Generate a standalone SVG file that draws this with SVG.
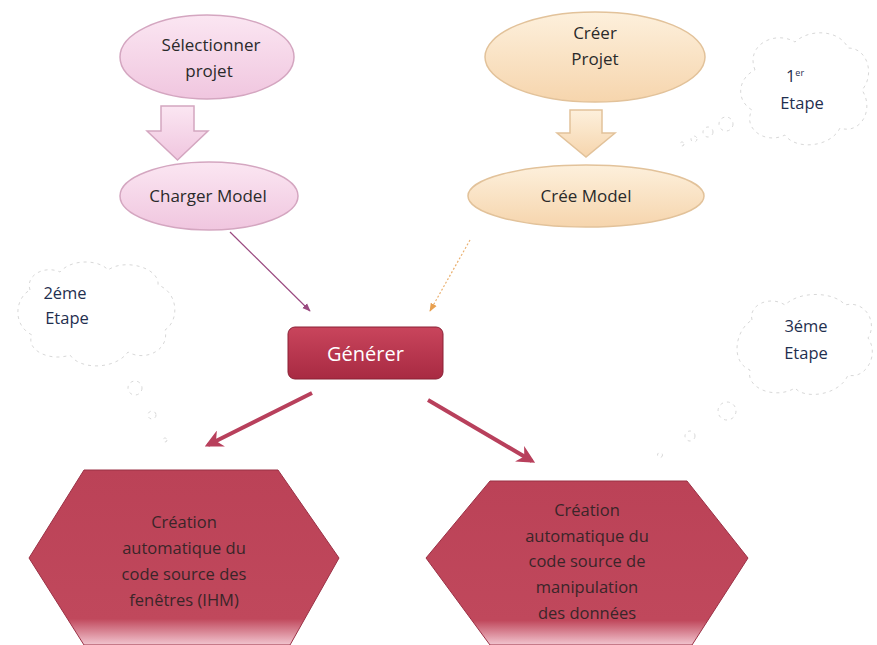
<svg xmlns="http://www.w3.org/2000/svg" width="877" height="645" viewBox="0 0 877 645">
<defs>
<linearGradient id="gPink" x1="0" y1="0" x2="0" y2="1">
<stop offset="0" stop-color="#fbe6f2"/><stop offset="1" stop-color="#f0c6df"/>
</linearGradient>
<linearGradient id="gOrange" x1="0" y1="0" x2="0" y2="1">
<stop offset="0" stop-color="#fdf0dc"/><stop offset="1" stop-color="#f6d5ad"/>
</linearGradient>
<linearGradient id="gRed" x1="0" y1="0" x2="0" y2="1">
<stop offset="0" stop-color="#bb4257"/><stop offset="0.85" stop-color="#c0485c"/><stop offset="1" stop-color="#f2c6d0"/>
</linearGradient>
<linearGradient id="gBtn" x1="0" y1="0" x2="0" y2="1">
<stop offset="0" stop-color="#c9455c"/><stop offset="1" stop-color="#a82a42"/>
</linearGradient>
<marker id="mThin" viewBox="0 0 10 10" refX="9" refY="5" markerWidth="7" markerHeight="7" orient="auto">
<path d="M0,1 L10,5 L0,9 z" fill="#9a4a80"/>
</marker>
<marker id="mOr" viewBox="0 0 10 10" refX="9" refY="5" markerWidth="7" markerHeight="7" orient="auto">
<path d="M0,1 L10,5 L0,9 z" fill="#e8a050"/>
</marker>
<marker id="mThick" viewBox="0 0 10 10" refX="8" refY="5" markerWidth="4.5" markerHeight="4.5" orient="auto">
<path d="M0,0 L10,5 L0,10 L3,5 z" fill="#b8405c"/>
</marker>
</defs>
<style>
.t{font-family:"Open Sans","Liberation Sans",sans-serif;font-size:17px;fill:#2a2a2a;text-anchor:middle}
.tb{font-family:"Open Sans","Liberation Sans",sans-serif;font-size:16.5px;fill:#3a2529;text-anchor:middle}
.tc{font-family:"Open Sans","Liberation Sans",sans-serif;font-size:16.5px;fill:#1f2f4f;text-anchor:middle}
.pink{fill:url(#gPink);stroke:#d4a6c0;stroke-width:1.5}
.orange{fill:url(#gOrange);stroke:#e2c29a;stroke-width:1.5}
.cloud{fill:#fff;stroke:#d8d8d8;stroke-width:1;stroke-dasharray:3 4}
.hex{fill:url(#gRed);stroke:#9a3045;stroke-width:1}
</style>

<g id="connectors">
<line x1="230" y1="232" x2="310" y2="311" stroke="#9a4a80" stroke-width="1.2" marker-end="url(#mThin)"/>
<line x1="470" y1="240" x2="430" y2="311" stroke="#eab070" stroke-width="1.2" stroke-dasharray="2 2" marker-end="url(#mOr)"/>
<line x1="312" y1="393" x2="208" y2="445" stroke="#b8405c" stroke-width="4" marker-end="url(#mThick)"/>
<line x1="428" y1="400" x2="532" y2="461" stroke="#b8405c" stroke-width="4" marker-end="url(#mThick)"/>
</g>

<g id="selectionner">
<ellipse class="pink" cx="207" cy="57" rx="87" ry="42"/>
<text class="t" x="211" y="51">Sélectionner</text>
<text class="t" x="209" y="77">projet</text>
</g>
<g id="arrow-left">
<path class="pink" d="M161,106 H194 V131 H208 L177.5,160 L147,131 H161 Z"/>
</g>
<g id="charger">
<ellipse class="pink" cx="209" cy="196" rx="89" ry="34"/>
<text class="t" x="208" y="202">Charger Model</text>
</g>

<g id="creer">
<ellipse class="orange" cx="595" cy="57" rx="110" ry="45"/>
<text class="t" x="595" y="39">Créer</text>
<text class="t" x="595" y="65">Projet</text>
</g>
<g id="arrow-right">
<path class="orange" d="M570,110 H602 V133 H615 L586,157 L557,133 H570 Z"/>
</g>
<g id="cree">
<ellipse class="orange" cx="586" cy="196" rx="118" ry="31"/>
<text class="t" x="586" y="202">Crée  Model</text>
</g>

<g id="etape1">
<path class="cloud" d="M755,70 C745,45 775,30 795,42 C810,28 840,30 848,48 C868,48 875,75 862,90 C875,110 860,135 840,128 C830,148 795,150 785,135 C765,145 742,128 752,110 C735,100 738,78 755,70 Z"/>
<circle class="cloud" cx="726" cy="124" r="7"/>
<circle class="cloud" cx="708" cy="132" r="5"/>
<circle class="cloud" cx="694" cy="139" r="3"/>
<circle class="cloud" cx="682" cy="144" r="2"/>
<text class="tc" x="795" y="82">1<tspan font-size="9" dy="-6">er</tspan></text>
<text class="tc" x="802" y="109">Etape</text>
</g>

<g id="etape2">
<path class="cloud" d="M30,290 C25,275 45,265 60,272 C72,258 100,260 108,270 C125,258 160,268 158,285 C178,292 180,320 165,330 C170,350 145,362 128,352 C115,370 80,370 70,355 C50,362 25,350 32,335 C12,325 15,298 30,290 Z"/>
<circle class="cloud" cx="135" cy="388" r="7"/>
<circle class="cloud" cx="152" cy="415" r="4"/>
<circle class="cloud" cx="165" cy="440" r="2"/>
<text class="tc" x="65" y="299">2éme</text>
<text class="tc" x="67" y="324">Etape</text>
</g>

<g id="etape3">
<path class="cloud" d="M752,320 C748,305 770,295 785,305 C800,290 835,292 845,305 C865,300 878,322 868,338 C880,355 865,380 848,375 C840,395 805,400 795,388 C775,400 745,388 750,370 C730,362 735,330 752,320 Z"/>
<circle class="cloud" cx="727" cy="411" r="9"/>
<circle class="cloud" cx="690" cy="436" r="5"/>
<circle class="cloud" cx="660" cy="455" r="2.5"/>
<text class="tc" x="806" y="332">3éme</text>
<text class="tc" x="806" y="359">Etape</text>
</g>

<g id="generer">
<rect x="288" y="327" width="155" height="52" rx="7" fill="url(#gBtn)" stroke="#8a2035" stroke-width="1"/>
<text x="365.5" y="361" font-family="Open Sans, Liberation Sans, sans-serif" font-size="20" fill="#fff" text-anchor="middle">Générer</text>
</g>

<g id="ihm">
<path class="hex" d="M84,470 H278 L339,558 L290,645 H84 L29,558 Z"/>
<text class="tb" x="184" y="528">Création</text>
<text class="tb" x="184" y="554">automatique du</text>
<text class="tb" x="184" y="580">code source des</text>
<text class="tb" x="184" y="606">fenêtres (IHM)</text>
</g>

<g id="donnees">
<path class="hex" d="M490,481 H687 L748,558 L692,645 H490 L426,558 Z"/>
<text class="tb" x="587" y="516">Création</text>
<text class="tb" x="587" y="542">automatique du</text>
<text class="tb" x="587" y="567">code source de</text>
<text class="tb" x="587" y="593">manipulation</text>
<text class="tb" x="587" y="619">des données</text>
</g>
</svg>
